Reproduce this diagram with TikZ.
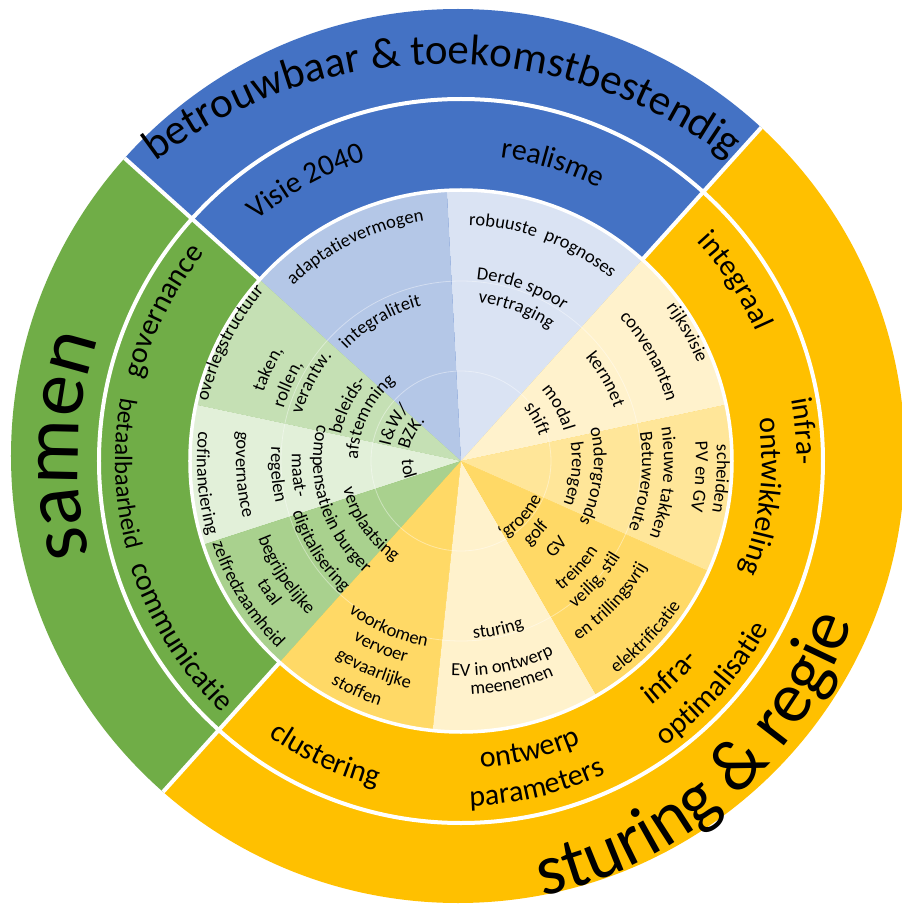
\documentclass[tikz,border=0pt]{standalone}
\usepackage{fontspec}
\setmainfont{Carlito}
\usetikzlibrary{decorations.text}
\definecolor{cBlue}{HTML}{4472C4}
\definecolor{cGreen}{HTML}{70AD47}
\definecolor{cGold}{HTML}{FFC000}
\definecolor{bA}{HTML}{B4C7E7}
\definecolor{bB}{HTML}{DAE3F3}
\definecolor{yA}{HTML}{FFF2CC}
\definecolor{yB}{HTML}{FFE699}
\definecolor{yC}{HTML}{FFD966}
\definecolor{gA}{HTML}{C5E0B4}
\definecolor{gB}{HTML}{E2F0D9}
\definecolor{gC}{HTML}{A9D18E}
% clockwise text (tops outward): center angle, baseline radius, font size, text
\newcommand\CW[4]{\path[decorate,decoration={text along path,text align=center,text={|\fontsize{#3}{#3}\selectfont|#4}}] ({#1+90}:#2pt) arc[start angle={#1+90},end angle={#1-90},radius=#2pt];}
% counter-clockwise text (tops toward centre)
\newcommand\CCW[4]{\path[decorate,decoration={text along path,text align=center,text={|\fontsize{#3}{#3}\selectfont|#4}}] ({#1-90}:#2pt) arc[start angle={#1-90},end angle={#1+90},radius=#2pt];}
\newcommand\Sector[4]{\fill[#1] (0,0) -- (#2:#4pt) arc[start angle=#2,end angle=#3,radius=#4pt] -- cycle;}
\begin{document}
\begin{tikzpicture}
\useasboundingbox (-461pt,-447pt) rectangle (441pt,461pt);
\fill[white] (-461pt,-447pt) rectangle (441pt,461pt);
% outer and middle bands
\begin{scope}
\clip (-3pt,5pt) circle (447pt);
\Sector{cBlue}{48}{138}{700}
\Sector{cGreen}{138}{228}{700}
\Sector{cGold}{228}{408}{700}
\end{scope}
% inner disk
\Sector{bB}{48}{93}{271}
\Sector{bA}{93}{138}{271}
\Sector{gA}{138}{168}{271}
\Sector{gB}{168}{198}{271}
\Sector{gC}{198}{228}{271}
\Sector{yC}{228}{264}{271}
\Sector{yA}{264}{300}{271}
\Sector{yC}{300}{336}{271}
\Sector{yB}{336}{372}{271}
\Sector{yA}{372}{408}{271}
% faint guide circles
\draw[white,opacity=0.4,line width=0.8pt] (0,0) circle (90pt) (0,0) circle (180pt);
% white separators
\draw[white,line width=4pt] (0,0) circle (362pt);
\draw[white,line width=3.5pt] (0,0) circle (271pt);
\begin{scope}
\clip (-3pt,5pt) circle (447pt);
\foreach \a in {48,138,228} \draw[white,line width=4pt] (\a:271pt) -- (\a:470pt);
\end{scope}
% outer band texts
\begin{scope}[shift={(-17pt,-79pt)}]
\CW{90.3}{476}{43}{betrouwbaar {\&} toekomstbestendig}
\end{scope}
\CW{177.8}{383}{82}{samen}
\begin{scope}[shift={(-11.5pt,-17.5pt)}]
\CCW{-48.5}{428}{72}{sturing {\&} regie}
\end{scope}
% middle band texts
\CW{119}{315}{30}{Visie 2040}
\CW{72.9}{306}{30}{realisme}
\CW{153.3}{330}{30}{governance}
\CCW{182.2}{346}{25}{betaalbaarheid}
\CCW{212.1}{347}{30}{communicatie}
\CW{33.3}{322}{30}{integraal}
\CW{5}{336}{30}{infra-}
\CW{-6.7}{301}{30}{ontwikkeling}
\CCW{-46}{310}{30}{infra-}
\CCW{-41.5}{350}{30}{optimalisatie}
\CCW{-76.6}{307}{30}{ontwerp}
\CCW{-76.8}{345}{30}{parameters}
\CCW{245.3}{336}{30}{clustering}
% inner texts, clockwise
\CW{116.2}{243}{18.5}{adaptatievermogen}
\CW{120}{160}{18.5}{integraliteit}
\CW{153}{260}{18.5}{overlegstructuur}
\CW{154.5}{209}{18.5}{taken,}
\CW{156}{185}{18.5}{rollen,}
\CW{152.3}{166}{18.5}{verantw.}
\CW{153.8}{123}{18.5}{beleids-}
\CW{154.3}{103}{18.5}{afstemming}
\CW{151.9}{72}{18.5}{I{\&}W/}
\CW{149.9}{53}{18.5}{BZK.}
\CW{69.4}{236}{18.5}{robuuste{\ } prognoses}
\CW{70.5}{182}{18.5}{Derde spoor}
\CW{70}{159}{18.5}{vertraging}
\CW{29.6}{256}{18.5}{rijksvisie}
\CW{29.1}{214}{18.5}{convenanten}
\CW{29.5}{162}{18.5}{kernnet}
\CW{28.8}{107}{18.5}{modal}
\CW{28.8}{82}{18.5}{shift}
\CW{-6.6}{133}{18.5}{ondergronds}
\CW{-6.6}{111}{18.5}{brengen}
\CW{-6.2}{203}{18.5}{nieuwe takken}
\CW{-6.5}{181}{18.5}{Betuweroute}
\CW{-3.9}{256}{18.5}{scheiden}
\CW{-3.8}{235}{18.5}{PV en GV}
% inner texts, counter-clockwise
\CCW{-43.6}{89}{18.5}{‘groene}
\CCW{-43.8}{109}{18.5}{golf}
\CCW{-42}{134}{18.5}{GV}
\CCW{-42.8}{164}{18.5}{treinen}
\CCW{-41.6}{186}{18.5}{veilig, stil}
\CCW{-43.2}{214}{18.5}{en trillingsvrij}
\CCW{-43.6}{263}{18.5}{elektrificatie}
\CCW{-77.6}{178}{18.5}{sturing}
\CCW{-78.5}{215}{18.5}{EV in ontwerp}
\CCW{-77.1}{234}{18.5}{meenemen}
\CCW{246.5}{189}{18.5}{voorkomen}
\CCW{246.8}{209}{18.5}{vervoer}
\CCW{247.3}{233}{18.5}{gevaarlijke}
\CCW{245.6}{258}{18.5}{stoffen}
\CCW{212}{262}{18.5}{zelfredzaamheid}
\CCW{213}{217}{18.5}{begrijpelijke}
\CCW{214.4}{238}{18.5}{taal}
\CCW{212.5}{176}{18.5}{digitalisering}
\CCW{214.8}{121}{18.5}{verplaatsing}
\CCW{197.6}{148}{18.5}{compensatiein burger}
\CCW{185}{169}{18.5}{maat-}
\CCW{184.3}{190}{18.5}{regelen}
\CCW{183.6}{225}{18.5}{governance}
\CCW{185}{264}{18.5}{cofinanciering}
\CCW{188.8}{59}{18.5}{tol}
\end{tikzpicture}
\end{document}
